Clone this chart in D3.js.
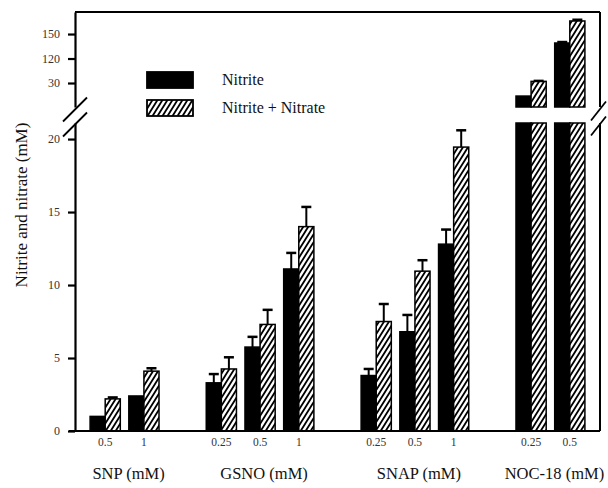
<!DOCTYPE html>
<html>
<head>
<meta charset="utf-8">
<script src="https://cdn.jsdelivr.net/npm/d3@7"></script>
<style>
    body { margin: 0; background: #fff; }
    svg { display: block; font-family: "Liberation Serif", "Times New Roman", serif; }
</style>
</head>
<body>
<div id="chart"></div>
<script>
// Data (mM)
const groups = ['SNP (mM)', 'GSNO (mM)', 'SNAP (mM)', 'NOC-18 (mM)'];
const doses = [['0.5', '1'], ['0.25', '0.5', '1'], ['0.25', '0.5', '1'], ['0.25', '0.5']];
const seriesNames = ['Nitrite', 'Nitrite + Nitrate'];
const nitrite = [1.0, 2.4, 3.3, 5.75, 11.1, 3.8, 6.8, 12.8, 74, 139];
const nitriteErr = [0, 0, 0.6, 0.7, 1.1, 0.45, 1.15, 1.0, 0, 1.2];
const total = [2.2, 4.1, 4.25, 7.3, 14.0, 7.5, 10.95, 19.45, 92, 166];
const totalErr = [0.1, 0.2, 0.8, 1.0, 1.35, 1.2, 0.75, 1.15, 0.6, 1.5];
const lowerTicks = [0, 5, 10, 15, 20];
const upperTicks = [90, 120, 150];
const upperTickLabels = ['30', '120', '150'];

function createBrokenBarChart(containerId = 'chart') {
    const W = 608, H = 488;
    const left = 75, right = 600, top = 12, bottom = 431;
    const lowTop = 123, upBottom = 107;

    const svg = d3.select(`#${containerId}`)
        .append('svg')
        .attr('width', W)
        .attr('height', H);

    svg.append('rect').attr('width', W).attr('height', H).attr('fill', '#fff');

    // Hatch pattern for Nitrite + Nitrate
    const pw = 5, ph = 8;
    const pat = svg.append('defs').append('pattern')
        .attr('id', 'hatch')
        .attr('patternUnits', 'userSpaceOnUse')
        .attr('width', pw)
        .attr('height', ph);
    pat.append('rect').attr('width', pw).attr('height', ph).attr('fill', '#fff');
    pat.append('path')
        .attr('d', `M0,${ph}L${pw},0 M${-pw / 2},${ph / 2}L${pw / 2},${-ph / 2} M${pw / 2},${ph * 1.5}L${pw * 1.5},${ph / 2}`)
        .attr('stroke', '#000')
        .attr('stroke-width', 1.8);

    // Build rows and slots (empty slot between groups)
    const rows = [];
    const slots = [];
    let k = 0;
    doses.forEach((ds, gi) => {
        ds.forEach((dose, di) => {
            const id = `${gi}-${di}`;
            slots.push(id);
            rows.push({ id, gi, dose, values: [
                { s: 0, v: nitrite[k], e: nitriteErr[k] },
                { s: 1, v: total[k], e: totalErr[k] }
            ] });
            k++;
        });
        if (gi < doses.length - 1) slots.push(`gap${gi}`);
    });

    // Scales
    const x = d3.scaleBand()
        .domain(slots)
        .range([left, right])
        .paddingInner(0.22)
        .paddingOuter(0.39);

    const xs = d3.scaleBand()
        .domain([0, 1])
        .range([0, x.bandwidth()]);

    const yLow = d3.scaleLinear().domain([0, 21.1]).range([bottom, lowTop]);
    const yUp = d3.scaleLinear().domain([60.6, 177]).range([upBottom, top]);

    const fillFor = s => s === 0 ? '#000' : 'url(#hatch)';

    // Bars (split into lower and upper segment)
    const barG = svg.append('g');
    rows.forEach(r => {
        r.values.forEach(d => {
            const bx = x(r.id) + xs(d.s);
            const bw = xs.bandwidth();
            const lowV = Math.min(d.v, yLow.domain()[1]);
            barG.append('rect')
                .attr('x', bx)
                .attr('y', yLow(lowV))
                .attr('width', bw)
                .attr('height', yLow(0) - yLow(lowV))
                .attr('fill', fillFor(d.s))
                .attr('stroke', '#000')
                .attr('stroke-width', 1.5);
            if (d.v > yUp.domain()[0]) {
                barG.append('rect')
                    .attr('x', bx)
                    .attr('y', yUp(d.v))
                    .attr('width', bw)
                    .attr('height', yUp(yUp.domain()[0]) - yUp(d.v))
                    .attr('fill', fillFor(d.s))
                    .attr('stroke', '#000')
                    .attr('stroke-width', 1.5);
            }
            // Error bar (upper whisker only)
            if (d.e > 0) {
                const yy = d.v > yUp.domain()[0] ? yUp : yLow;
                const cx = bx + bw / 2;
                barG.append('line')
                    .attr('x1', cx).attr('x2', cx)
                    .attr('y1', yy(d.v)).attr('y2', yy(d.v + d.e))
                    .attr('stroke', '#000').attr('stroke-width', 2);
                barG.append('line')
                    .attr('x1', cx - 5).attr('x2', cx + 5)
                    .attr('y1', yy(d.v + d.e)).attr('y2', yy(d.v + d.e))
                    .attr('stroke', '#000').attr('stroke-width', 2.5);
            }
        });
    });

    // Y axes (lower and upper)
    const lowAxis = svg.append('g')
        .attr('transform', `translate(${left},0)`)
        .call(d3.axisLeft(yLow).tickValues(lowerTicks).tickSize(7).tickSizeOuter(0).tickPadding(8));

    const upAxis = svg.append('g')
        .attr('transform', `translate(${left},0)`)
        .call(d3.axisLeft(yUp).tickValues(upperTicks).tickSize(7).tickSizeOuter(0).tickPadding(8)
            .tickFormat((d, i) => upperTickLabels[i]));

    [lowAxis, upAxis].forEach(a => {
        a.select('.domain').attr('stroke-width', 2.2);
        a.selectAll('.tick line').attr('stroke-width', 2.2);
        a.selectAll('.tick text')
            .style('font-family', '"Liberation Serif", serif')
            .style('font-size', '12px')
            .attr('fill', '#333');
    });

    // Frame: top, right (broken), bottom
    const frame = svg.append('g').attr('stroke', '#000').attr('stroke-width', 2);
    frame.append('line').attr('x1', left).attr('x2', right).attr('y1', top).attr('y2', top);
    frame.append('line').attr('x1', right).attr('x2', right).attr('y1', top).attr('y2', upBottom);
    frame.append('line').attr('x1', right).attr('x2', right).attr('y1', lowTop).attr('y2', bottom);
    frame.append('line').attr('x1', left - 6).attr('x2', right).attr('y1', bottom).attr('y2', bottom);

    // Break marks
    const breaks = svg.append('g').attr('stroke', '#000').attr('stroke-width', 1.8);
    [109.5, 124.5].forEach(cy => {
        breaks.append('line')
            .attr('x1', left - 12).attr('y1', cy + 12)
            .attr('x2', left + 12).attr('y2', cy - 12);
        breaks.append('line')
            .attr('x1', right - 9).attr('y1', cy + 11)
            .attr('x2', right + 6).attr('y2', cy - 8);
    });

    // Dose labels
    svg.append('g')
        .selectAll('text')
        .data(rows)
        .enter()
        .append('text')
        .attr('x', d => x(d.id) + x.bandwidth() / 2)
        .attr('y', 446)
        .attr('text-anchor', 'middle')
        .style('font-size', '11.5px')
        .attr('fill', '#333')
        .text(d => d.dose);

    // Group labels
    svg.append('g')
        .selectAll('text')
        .data(groups)
        .enter()
        .append('text')
        .attr('x', (g, gi) => {
            const ids = rows.filter(r => r.gi === gi).map(r => x(r.id) + x.bandwidth() / 2);
            return d3.mean(ids) + 4;
        })
        .attr('y', 479)
        .attr('text-anchor', 'middle')
        .style('font-size', '16.5px')
        .attr('fill', '#111')
        .text(d => d);

    // Y axis title
    svg.append('text')
        .attr('transform', 'rotate(-90)')
        .attr('x', -205)
        .attr('y', 27)
        .attr('text-anchor', 'middle')
        .style('font-size', '17px')
        .attr('fill', '#111')
        .text('Nitrite and nitrate (mM)');

    // Legend
    const legend = svg.append('g');
    seriesNames.forEach((name, i) => {
        legend.append('rect')
            .attr('x', 147)
            .attr('y', 72 + i * 28)
            .attr('width', 46)
            .attr('height', 16)
            .attr('fill', fillFor(i))
            .attr('stroke', '#000')
            .attr('stroke-width', 1.8);
        legend.append('text')
            .attr('x', 222)
            .attr('y', 85 + i * 28)
            .style('font-size', '16px')
            .attr('fill', '#111')
            .text(name);
    });
}

createBrokenBarChart('chart');
</script>
</body>
</html>
